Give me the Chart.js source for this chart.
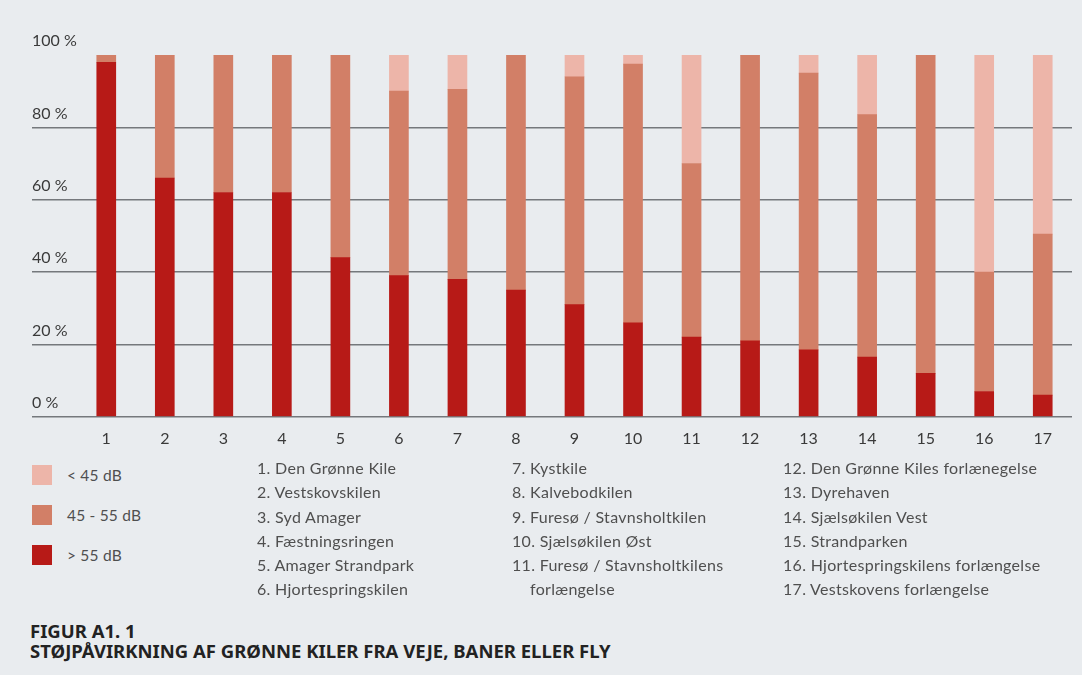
<!DOCTYPE html>
<html lang="da">
<head>
<meta charset="utf-8">
<title>Støjpåvirkning af grønne kiler</title>
<script src="https://cdn.jsdelivr.net/npm/chart.js@4/dist/chart.umd.min.js"></script>
<style>
  html, body { margin: 0; padding: 0; }
  body {
    width: 1082px; height: 675px; overflow: hidden;
    background: #e9ecef; position: relative;
    font-family: Lato, "Open Sans", sans-serif; color: #4f4f4f;
  }
  #wrap { position: absolute; left: 0; top: 0; width: 1082px; height: 460px; }
  .legend { position: absolute; left: 32px; top: 465px; }
  .legend .row { display: flex; align-items: center; height: 20px; margin-bottom: 20px; font-size: 15.5px; letter-spacing: 0.2px; }
  .legend .sw { width: 20px; height: 20px; margin-right: 15px; }
  .names { position: absolute; top: 456px; font-size: 16px; line-height: 24.3px; letter-spacing: 0.3px; }
  .names div { padding-left: 18px; text-indent: -18px; }
  .title { position: absolute; left: 30px; top: 621px; font-family: "Noto Sans", sans-serif;
    font-weight: 700; font-size: 18.5px; line-height: 19.5px; color: #222; letter-spacing: 0px; }
</style>
</head>
<body>
<div id="wrap"><canvas id="noiseChart"></canvas></div>
<div class="legend" id="legend"></div>
<div class="names" id="col1" style="left:257px; width:245px"></div>
<div class="names" id="col2" style="left:512px; width:245px"></div>
<div class="names" id="col3" style="left:783px; width:295px"></div>
<div class="title">FIGUR A1. 1<br>STØJPÅVIRKNING AF GRØNNE KILER FRA VEJE, BANER ELLER FLY</div>

<script>
// ---- data (share of area, %) ----
const categories = ['1','2','3','4','5','6','7','8','9','10','11','12','13','14','15','16','17'];

const over55   = [98, 66, 62, 62, 44, 39, 38, 35, 31, 26, 22, 21, 18.5, 16.5, 12, 7, 6];
const mid45_55 = [2, 34, 38, 38, 56, 51, 52.5, 65, 63, 71.5, 48, 79, 76.5, 67, 88, 33, 44.5];
const under45  = [0, 0, 0, 0, 0, 10, 9.5, 0, 6, 2.5, 30, 0, 5, 16.5, 0, 60, 49.5];

const yTicks = [0, 20, 40, 60, 80, 100];

const areaNames = [
  'Den Grønne Kile', 'Vestskovskilen', 'Syd Amager', 'Fæstningsringen',
  'Amager Strandpark', 'Hjortespringskilen', 'Kystkile', 'Kalvebodkilen',
  'Furesø / Stavnsholtkilen', 'Sjælsøkilen Øst', 'Furesø / Stavnsholtkilens forlængelse',
  'Den Grønne Kiles forlænegelse', 'Dyrehaven', 'Sjælsøkilen Vest', 'Strandparken',
  'Hjortespringskilens forlængelse', 'Vestskovens forlængelse'
];

const cRed   = '#b71a17';
const cMid   = '#d27f67';
const cLight = '#edb5a9';
const gridCol = '#75787c';

const datasets = [
  { label: '> 55 dB',    data: over55,   backgroundColor: cRed },
  { label: '45 - 55 dB', data: mid45_55, backgroundColor: cMid },
  { label: '< 45 dB',    data: under45,  backgroundColor: cLight }
];

// legend (top to bottom: lightest first)
const legendEl = document.getElementById('legend');
datasets.slice().reverse().forEach(ds => {
  const row = document.createElement('div');
  row.className = 'row';
  row.innerHTML = '<span class="sw" style="background:' + ds.backgroundColor + '"></span>' + ds.label;
  legendEl.appendChild(row);
});

// numbered name lists in three columns
const colSplit = [[0, 6, 'col1'], [6, 11, 'col2'], [11, 17, 'col3']];
colSplit.forEach(([a, b, id]) => {
  const el = document.getElementById(id);
  for (let i = a; i < b; i++) {
    const d = document.createElement('div');
    d.textContent = (i + 1) + '. ' + areaNames[i];
    el.appendChild(d);
  }
});

const ctx = document.getElementById('noiseChart');
new Chart(ctx, {
  type: 'bar',
  data: { labels: categories, datasets: datasets },
  options: {
    responsive: true,
    maintainAspectRatio: false,
    animation: false,
    layout: { padding: { left: 32, right: 10, top: 55, bottom: 8 } },
    plugins: { legend: { display: false }, tooltip: { enabled: true } },
    datasets: { bar: { barThickness: 19 } },
    scales: {
      x: {
        stacked: true,
        grid: { display: false },
        border: { display: false },
        ticks: {
          color: '#3a3a3a', padding: 4,
          font: { family: 'Lato', size: 16 },
          maxRotation: 0, minRotation: 0
        }
      },
      y: {
        stacked: true,
        min: 0, max: 100,
        afterBuildTicks: scale => { scale.ticks = yTicks.map(v => ({ value: v })); },
        afterFit: scale => { scale.width = 45; },
        border: { display: false },
        grid: {
          color: c => (c.tick && c.tick.value === 100) ? 'rgba(0,0,0,0)' : gridCol,
          lineWidth: 1.6,
          drawTicks: true,
          tickLength: 45
        },
        ticks: {
          crossAlign: 'far',
          labelOffset: -14,
          padding: 0,
          color: '#3a3a3a',
          font: { family: 'Lato', size: 16 },
          callback: v => v + ' %'
        }
      }
    }
  }
});
</script>
</body>
</html>
